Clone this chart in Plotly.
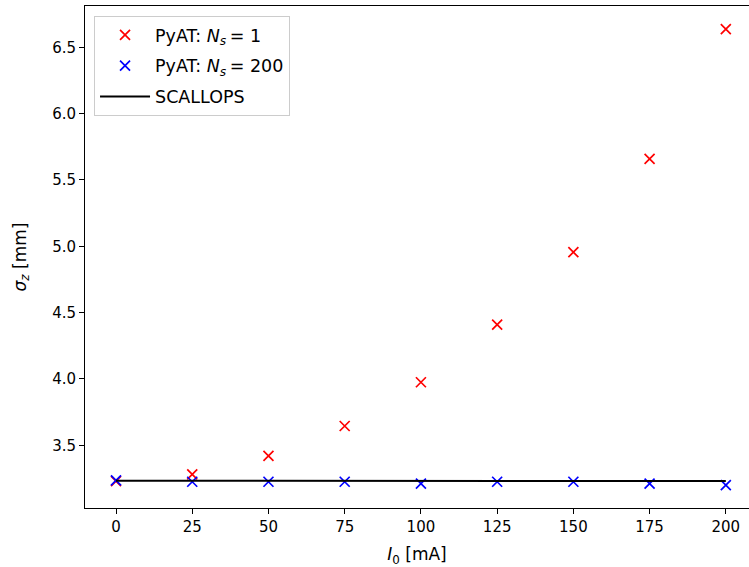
import plotly.graph_objects as go

I0 = [0, 25, 50, 75, 100, 125, 150, 175, 200]
sigma_ns1 = [3.23, 3.28, 3.42, 3.645, 3.975, 4.41, 4.955, 5.658, 6.636]
sigma_ns200 = [3.235, 3.225, 3.225, 3.225, 3.21, 3.225, 3.225, 3.21, 3.20]
scallops = [3.232, 3.232, 3.232, 3.232, 3.231, 3.231, 3.231, 3.231, 3.231]

x_ticks = [0, 25, 50, 75, 100, 125, 150, 175, 200]
y_ticks = [3.5, 4.0, 4.5, 5.0, 5.5, 6.0, 6.5]

FONT = "DejaVu Sans"
EQ = "\u2009= "

fig = go.Figure()
fig.add_trace(go.Scatter(
    x=I0, y=sigma_ns1, mode="markers", name="PyAT: <i>N<sub>s</sub></i>" + EQ + "1",
    legendgroup="a",
    marker=dict(symbol="x-thin", size=10, color="red", line=dict(color="red", width=1.7)),
))
fig.add_trace(go.Scatter(
    x=I0, y=sigma_ns200, mode="markers", name="PyAT: <i>N<sub>s</sub></i>" + EQ + "200",
    legendgroup="b",
    marker=dict(symbol="x-thin", size=10, color="blue", line=dict(color="blue", width=1.7)),
))
fig.add_trace(go.Scatter(
    x=I0, y=scallops, mode="lines", name="SCALLOPS",
    legendgroup="c",
    line=dict(color="black", width=2),
))

fig.update_layout(
    width=749, height=567,
    margin=dict(l=85, r=0, t=6, b=59),
    paper_bgcolor="white", plot_bgcolor="white",
    font=dict(family=FONT, size=15, color="black"),
    showlegend=True,
    legend=dict(
        x=0.0136, y=0.980, xanchor="left", yanchor="top",
        bgcolor="rgba(255,255,255,0.8)", bordercolor="#cccccc", borderwidth=1,
        font=dict(family=FONT, size=17.5, color="black"),
        tracegroupgap=5, traceorder="grouped", itemwidth=50,
    ),
    xaxis=dict(
        range=[-10.17, 207.6], tickmode="array", tickvals=x_ticks,
        ticktext=[str(v) for v in x_ticks],
        showgrid=False, zeroline=False,
        showline=True, linecolor="black", linewidth=1, mirror=True,
        ticks="outside", ticklen=5, tickwidth=1, tickcolor="black",
        tickfont=dict(family=FONT, size=15, color="black"),
        title=dict(text="<i>I</i><sub>0</sub> [mA]", font=dict(family=FONT, size=17, color="black"), standoff=13),
    ),
    yaxis=dict(
        range=[3.027, 6.811], tickmode="array", tickvals=y_ticks,
        ticktext=[f"{v:.1f}" for v in y_ticks],
        showgrid=False, zeroline=False,
        showline=True, linecolor="black", linewidth=1, mirror=False,
        ticks="outside", ticklen=5, tickwidth=1, tickcolor="black",
        tickfont=dict(family=FONT, size=15, color="black"),
        title=dict(text="<i>σ<sub>z</sub></i> [mm]", font=dict(family=FONT, size=17, color="black"), standoff=21),
    ),
)

fig.write_html("out.html")
